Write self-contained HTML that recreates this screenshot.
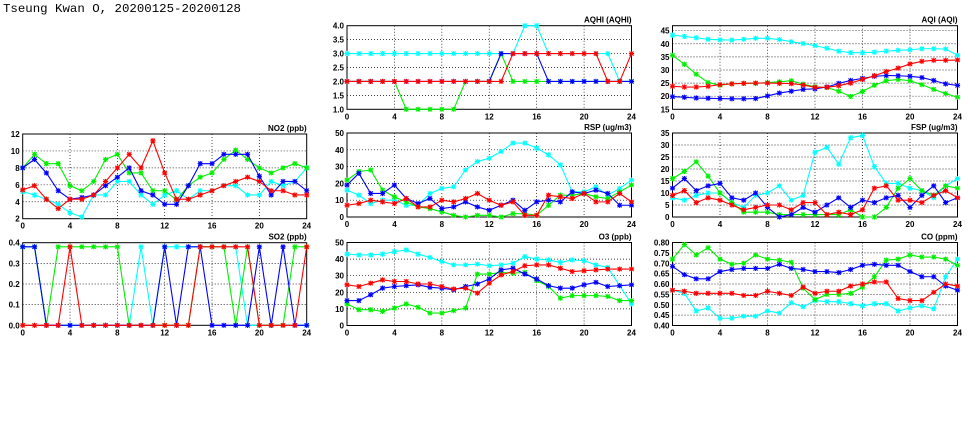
<!DOCTYPE html>
<html><head><meta charset="utf-8"><style>
html,body{margin:0;padding:0;background:#fff;}
svg{display:block;}
text{font-family:"Liberation Sans",sans-serif;}
</style></head><body>
<svg id="chart" width="975" height="447" viewBox="0 0 975 447">
<text x="3" y="12" font-size="12.4" style="font-family:'Liberation Mono',monospace">Tseung Kwan O, 20200125-20200128</text>
</svg>
<script>
const hours = [0,1,2,3,4,5,6,7,8,9,10,11,12,13,14,15,16,17,18,19,20,21,22,23,24];
const xTicks = [0,4,8,12,16,20,24];
const seriesColors = ['#00ffff','#00ee00','#0000ff','#ff0000'];
const seriesNames = ['cyan','green','blue','red'];

const aqhiCyan=[3,3,3,3,3,3,3,3,3,3,3,3,3,3,3,4,4,3,3,3,3,3,3,2,2];
const aqhiGreen=[2,2,2,2,2,1,1,1,1,1,2,2,2,3,2,2,2,2,2,2,2,2,2,2,2];
const aqhiBlue=[2,2,2,2,2,2,2,2,2,2,2,2,2,3,3,3,3,2,2,2,2,2,2,2,2];
const aqhiRed=[2,2,2,2,2,2,2,2,2,2,2,2,2,2,3,3,3,3,3,3,3,3,2,2,3];
const aqhiTicks=[1.0,1.5,2.0,2.5,3.0,3.5,4.0];

const aqiCyan=[43.3,42.8,42.3,41.7,41.5,41.4,41.7,42.1,42.1,41.6,40.8,40.1,39.3,38.3,37.2,36.6,36.6,36.8,37.2,37.5,37.7,38.1,38.1,38,35.6];
const aqiGreen=[35.6,32.2,28.4,25.2,24.2,24.7,24.9,24.9,25.2,25.5,25.9,24.6,23.6,23.3,21.9,19.9,21.8,24.2,25.9,26.4,25.9,24.4,22.6,21,19.6];
const aqiBlue=[19.8,19.6,19.3,19.2,19.1,19,19,19.1,20.1,21.2,21.9,22.6,22.8,23.5,24.9,26,26.8,27.6,27.9,27.8,27.6,27.1,26,24.7,24.1];
const aqiRed=[23.8,23.5,23.5,23.8,24.4,24.7,24.9,25,25,24.9,24.8,24.3,23.4,23.4,24,25,26.4,27.8,29.4,30.7,32.3,33.3,33.7,33.7,33.8];
const aqiTicks=[15,20,25,30,35,40,45];

const no2Cyan=[5.2,4.8,4.3,3.7,2.7,2.2,4.8,4.8,6.4,6.4,4.8,3.7,4.8,5.3,4.3,5.3,5.3,5.9,5.9,4.8,4.8,6.4,5.9,6.4,8];
const no2Green=[8,9.6,8.5,8.5,5.9,5.3,6.4,9,9.6,7.4,7.4,5.3,5.3,4.2,5.9,6.9,7.4,9,10.1,9,8,7.4,8,8.5,8];
const no2Blue=[8,9,7.4,5.3,4.3,4.5,4.8,5.9,6.9,8,5.3,4.8,3.7,3.7,5.9,8.5,8.5,9.6,9.6,9.6,7,4.8,6.4,6.4,5.3];
const no2Red=[5.4,5.9,4.3,3.2,4.3,4.3,4.8,6.4,8,9.6,8,11.2,7.4,4.3,4.3,4.8,5.3,5.9,6.4,6.9,6.4,5.3,5.3,4.8,4.8];
const no2Ticks=[2,4,6,8,10,12];

const rspCyan=[16,13,8,10,10,7,7,14,17,18,28,33,35,39,44,44,41,37,31,15,15,18,13,17,22];
const rspGreen=[22,27,28,16,12,9,6,5,3,1,0,1,1,0,2,2,1,7,13,13,14,12,11,15,19];
const rspBlue=[19,26,14,14,19,11,8,11,5,6,9,6,4,7,10,4,9,10,9,15,14,16,14,7,7];
const rspRed=[7,8,10,9,8,11,6,6,10,9,11,14,10,7,9,1,1,13,12,11,14,9,9,14,9];
const rspTicks=[0,10,20,30,40,50];

const fspCyan=[8,7,9,10,10,6,4,9,10,13,7,9,27,29,22,33,34,21,14,14,12,11,8,13,16];
const fspGreen=[16,19,23,17,10,6,2,2,2,1,1,1,1,1,1,3,0,0,4,12,16,11,9,13,12];
const fspBlue=[12,16,11,13,14,8,7,10,4,0,1,4,2,5,8,4,7,6,8,9,4,9,13,6,8];
const fspRed=[9,11,6,8,7,5,3,4,5,5,3,6,6,1,2,1,3,12,13,7,7,6,9,11,8];
const fspTicks=[0,5,10,15,20,25,30,35];

const so2Cyan=[0.38,0.38,0,0,0,0,0,0,0,0,0.38,0,0.38,0.38,0.38,0.38,0.38,0.38,0.38,0,0,0,0,0,0];
const so2Green=[0.38,0.38,0,0.38,0.38,0.38,0.38,0.38,0.38,0,0,0,0,0,0,0.38,0.38,0.38,0,0.38,0,0,0,0.38,0.38];
const so2Blue=[0.38,0.38,0,0,0,0,0,0,0,0,0,0,0.38,0,0.38,0.38,0,0,0,0,0.38,0,0.38,0,0];
const so2Red=[0,0,0,0,0.38,0,0,0,0,0,0,0,0,0,0,0.38,0.38,0.38,0.38,0.38,0,0,0,0,0.38];
const so2Ticks=[0,0.1,0.2,0.3,0.4];

const o3Cyan=[43,42.5,42.5,43,44.5,45.5,43,41,38.5,36.5,36.5,37,36,36.5,37.5,41.5,40,39.5,38,39.5,39,36.5,35,24,13];
const o3Green=[13,9.5,9.5,8.5,10.5,13,11,7.5,7.5,9,10.5,31,31,32,31.5,32,27,23.5,16.5,18,18,18,17.5,15,15];
const o3Blue=[15,15,18.5,22.5,23.5,24,24.5,23,22.5,21.5,23.5,25,28,33.5,34.5,31,28,24,22.5,22.5,24.5,26,23.5,24,24.5];
const o3Red=[24.5,23.5,25.5,27.5,26.5,26.5,25,25,23.5,22,22.5,19.5,25.5,30.5,32.5,36,36.5,36.5,34.5,32.5,33,33.5,34,34,34];
const o3Ticks=[0,10,20,30,40,50];

const coCyan=[0.57,0.555,0.47,0.485,0.435,0.435,0.445,0.445,0.47,0.46,0.51,0.49,0.52,0.515,0.515,0.505,0.495,0.505,0.505,0.47,0.485,0.495,0.48,0.635,0.72];
const coGreen=[0.72,0.79,0.74,0.775,0.72,0.695,0.70,0.74,0.72,0.715,0.705,0.58,0.525,0.55,0.55,0.555,0.585,0.635,0.715,0.72,0.74,0.73,0.73,0.72,0.69];
const coBlue=[0.685,0.645,0.625,0.625,0.66,0.67,0.675,0.675,0.675,0.695,0.675,0.67,0.66,0.66,0.655,0.67,0.69,0.695,0.69,0.69,0.66,0.635,0.635,0.59,0.57];
const coRed=[0.57,0.565,0.555,0.555,0.555,0.555,0.545,0.545,0.565,0.555,0.545,0.585,0.555,0.565,0.565,0.59,0.60,0.61,0.61,0.53,0.52,0.52,0.56,0.60,0.59];
const coTicks=[0.40,0.45,0.50,0.55,0.60,0.65,0.70,0.75,0.80];

const NS='http://www.w3.org/2000/svg';
const svg=document.getElementById('chart');
function mk(tag,attrs,parent){const e=document.createElementNS(NS,tag);for(const k in attrs)e.setAttribute(k,attrs[k]);(parent||svg).appendChild(e);return e;}

const panels=[
 {key:'aqhi',title:'AQHI (AQHI)',L:347,R:631.5,T:25.7,B:109.3,min:1,max:4,ticks:aqhiTicks,dec:1,data:[aqhiCyan,aqhiGreen,aqhiBlue,aqhiRed]},
 {key:'aqi',title:'AQI (AQI)',L:672.5,R:957.5,T:25.7,B:109.3,min:15,max:46.9,ticks:aqiTicks,dec:0,data:[aqiCyan,aqiGreen,aqiBlue,aqiRed]},
 {key:'no2',title:'NO2 (ppb)',L:22.7,R:306.7,T:134,B:218.7,min:2,max:12,ticks:no2Ticks,dec:0,data:[no2Cyan,no2Green,no2Blue,no2Red]},
 {key:'rsp',title:'RSP (ug/m3)',L:347,R:631.5,T:133,B:217,min:0,max:50,ticks:rspTicks,dec:0,data:[rspCyan,rspGreen,rspBlue,rspRed]},
 {key:'fsp',title:'FSP (ug/m3)',L:672.5,R:957.5,T:133,B:217,min:0,max:35,ticks:fspTicks,dec:0,data:[fspCyan,fspGreen,fspBlue,fspRed]},
 {key:'so2',title:'SO2 (ppb)',L:22.7,R:306.7,T:242.7,B:325.3,min:0,max:0.4,ticks:so2Ticks,dec:1,data:[so2Cyan,so2Green,so2Blue,so2Red]},
 {key:'o3',title:'O3 (ppb)',L:347,R:631.5,T:242.5,B:325.5,min:0,max:50,ticks:o3Ticks,dec:0,data:[o3Cyan,o3Green,o3Blue,o3Red]},
 {key:'co',title:'CO (ppm)',L:672.5,R:957.5,T:242.5,B:325.5,min:0.4,max:0.8,ticks:coTicks,dec:2,data:[coCyan,coGreen,coBlue,coRed]}
];

panels.forEach(p=>{
 const xs=h=>p.L+(h/24)*(p.R-p.L);
 const ys=v=>p.B-(v-p.min)/(p.max-p.min)*(p.B-p.T);
 const g=mk('g',{});
 
 
 xTicks.forEach(t=>{
  if(t===0||t===24)return;
  const l=mk('line',{x1:xs(t),x2:xs(t),y1:p.T,y2:p.B,stroke:'#000','stroke-width':0.7,'stroke-dasharray':'1,2'},g);
  
  
 });
 p.ticks.forEach(t=>{
  const y=ys(t);
  if(Math.abs(y-p.T)>1&&Math.abs(y-p.B)>1){
   const l=mk('line',{x1:p.L,x2:p.R,y1:y,y2:y,stroke:'#000','stroke-width':0.7,'stroke-dasharray':'1,2'},g);
   
   
  }
  const tx=mk('text',{x:p.L-3,y:y+3,'font-size':8,'font-weight':'bold','text-anchor':'end',fill:'#000'},g);
  tx.textContent=t.toFixed(p.dec);
  
  
 });
 xTicks.forEach(t=>{
  const tx=mk('text',{x:xs(t),y:p.B+10,'font-size':8,'font-weight':'bold','text-anchor':'middle',fill:'#000'},g);
  tx.textContent=String(t);
  
  
 });
 const fr=mk('rect',{x:p.L,y:p.T,width:p.R-p.L,height:p.B-p.T,fill:'none',stroke:'#000','stroke-width':1},g);
 
 
 const ti=mk('text',{x:p.R,y:p.T-3,'font-size':8,'font-weight':'bold','text-anchor':'end',fill:'#000'},g);
 ti.textContent=p.title;
 
 
 p.data.forEach((vals,si)=>{
  const col=seriesColors[si];
  const sg=mk('g',{},g);
  
  
  const pts=vals.map((v,i)=>xs(hours[i]).toFixed(2)+','+ys(v).toFixed(2)).join(' ');
  const pl=mk('polyline',{points:pts,fill:'none',stroke:col,'stroke-width':1.1},sg);
  
  
  vals.forEach((v,i)=>{
   const cx=xs(hours[i]),cy=ys(v),s=2.6;
   const m=mk('path',{d:`M${cx-s},${cy}H${cx+s}M${cx},${cy-s}V${cy+s}M${cx-s*0.8},${cy-s*0.8}L${cx+s*0.8},${cy+s*0.8}M${cx-s*0.8},${cy+s*0.8}L${cx+s*0.8},${cy-s*0.8}`,stroke:col,'stroke-width':1.1,fill:'none'},sg);
   
   
  });
 });
});
</script>
</body></html>
